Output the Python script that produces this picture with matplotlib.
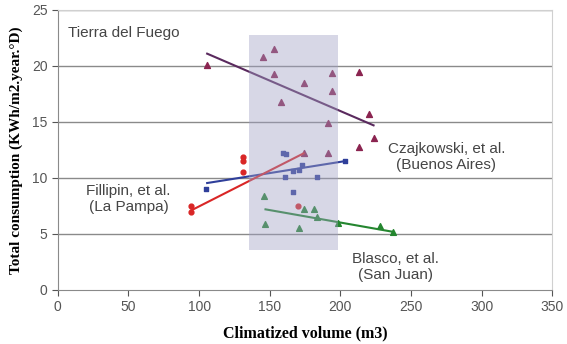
import numpy as np
import matplotlib
matplotlib.use("Agg")
import matplotlib.pyplot as plt
from matplotlib.patches import Rectangle

## DATA
# Tierra del Fuego (triangles)
tdf_x = [105.7, 145, 153, 153, 158, 174, 194, 194, 191, 213.5, 220, 223.5, 213.5, 174, 191.5]
tdf_y = [20.1, 20.8, 21.5, 19.3, 16.8, 18.5, 19.4, 17.8, 14.9, 19.5, 15.7, 13.6, 12.8, 12.2, 12.2]
tdf_fit_x = [105.7, 223.5]
tdf_fit_y = [21.1, 14.7]

# Czajkowski, Buenos Aires (squares)
ba_x = [105, 159.6, 161.7, 173, 166.7, 171, 161, 183.7, 166.7, 203]
ba_y = [9.0, 12.2, 12.1, 11.2, 10.6, 10.7, 10.1, 10.1, 8.75, 11.5]
ba_fit_x = [105.7, 203]
ba_fit_y = [9.55, 11.5]

# Fillipin, La Pampa (circles)
lp_x = [94.3, 94.3, 131, 131, 131, 170]
lp_y = [7.5, 7.0, 11.9, 11.5, 10.5, 7.5]
lp_fit_x = [94.3, 174]
lp_fit_y = [7.1, 12.2]

# Blasco, San Juan (triangles)
sj_x = [146, 174, 181, 147, 171, 183.6, 198, 228, 237]
sj_y = [8.4, 7.2, 7.2, 5.9, 5.5, 6.5, 6.0, 5.7, 5.2]
sj_fit_x = [147, 237]
sj_fit_y = [7.2, 5.2]

# shaded band
band_x = [135, 198]
band_y = [3.6, 22.8]

xticks = [0, 50, 100, 150, 200, 250, 300, 350]
yticks = [0, 5, 10, 15, 20, 25]

## PLOT
fig = plt.figure(figsize=(5.67, 3.44), dpi=100)
ax = fig.add_axes([0.102, 0.157, 0.872, 0.814])

for y in yticks[1:]:
    ax.axhline(y, color='#8a8a8a', lw=1.0, zorder=1)

c_tdf = '#8b2450'
c_ba = '#2f3f9a'
c_lp = '#d92626'
c_sj = '#24862f'

ax.scatter(tdf_x, tdf_y, marker='^', s=18, color=c_tdf, zorder=3)
ax.plot(tdf_fit_x, tdf_fit_y, color='#5a2a5e', lw=1.5, zorder=3)
ax.scatter(ba_x, ba_y, marker='s', s=12, color=c_ba, zorder=3)
ax.plot(ba_fit_x, ba_fit_y, color=c_ba, lw=1.5, zorder=3)
ax.scatter(lp_x, lp_y, marker='o', s=12, color=c_lp, zorder=3)
ax.plot(lp_fit_x, lp_fit_y, color=c_lp, lw=1.5, zorder=3)
ax.scatter(sj_x, sj_y, marker='^', s=17, color=c_sj, zorder=3)
ax.plot(sj_fit_x, sj_fit_y, color=c_sj, lw=1.5, zorder=3)

# translucent band drawn over the points
ax.add_patch(Rectangle((band_x[0], band_y[0]), band_x[1] - band_x[0], band_y[1] - band_y[0],
                       facecolor='#a0a0c4', alpha=0.42, edgecolor='none', zorder=4))

txt = dict(fontsize=11, color='#454545', family='Liberation Sans', zorder=5)
ax.text(7, 22.9, 'Tierra del Fuego', ha='left', va='center', **txt)
ax.text(275, 11.9, 'Czajkowski, et al.\n(Buenos Aires)', ha='center', va='center', **txt)
ax.text(50, 8.1, 'Fillipin, et al.\n(La Pampa)', ha='center', va='center', **txt)
ax.text(239, 2.05, 'Blasco, et al.\n(San Juan)', ha='center', va='center', **txt)

ax.set_xlim(0, 350)
ax.set_ylim(0, 25)
ax.set_xticks(xticks)
ax.set_yticks(yticks)
ax.tick_params(labelsize=10, colors='#555555', length=4, direction='out')
for lab in ax.get_xticklabels() + ax.get_yticklabels():
    lab.set_family('Liberation Sans')
for s in ['left', 'bottom']:
    ax.spines[s].set_color('#8a8a8a')
for s in ['top', 'right']:
    ax.spines[s].set_color('#d0d0d0')

ax.set_xlabel('Climatized volume (m3)', fontsize=11.5, fontweight='bold', family='Liberation Serif', labelpad=8)
ax.set_ylabel('Total consumption (KWh/m2.year.\u00b0D)', fontsize=11, fontweight='bold', family='Liberation Serif', labelpad=6)

fig.savefig('out.png', dpi=100)
